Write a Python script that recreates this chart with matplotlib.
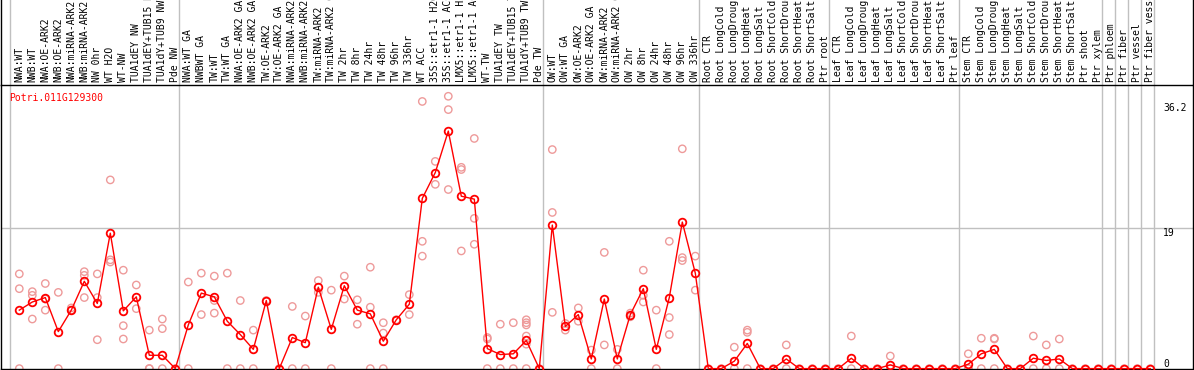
import numpy as np
import matplotlib
matplotlib.use('Agg')
import matplotlib.pyplot as plt

# gene shown
gene = 'Potri.011G129300'

# sample names, one column each
labels = ['NWA:WT', 'NWB:WT', 'NWA:OE-ARK2', 'NWB:OE-ARK2', 'NWA:miRNA-ARK2', 'NWB:miRNA-ARK2',
          'NW 0hr', 'WT H2O', 'WT-NW', 'TUA1dEY NW', 'TUA1dEY+TUB15 NW', 'TUA1dY+TUB9 NW', 'Pde NW',
          'NWA:WT GA', 'NWBWT GA', 'TW:WT', 'TW:WT GA', 'NWA:OE-ARK2 GA', 'NWB:OE-ARK2 GA',
          'TW:OE-ARK2', 'TW:OE-ARK2 GA', 'NWA:miRNA-ARK2 GA', 'NWB:miRNA-ARK2 GA', 'TW:miRNA-ARK2',
          'TW:miRNA-ARK2 GA', 'TW 2hr', 'TW 8hr', 'TW 24hr', 'TW 48hr', 'TW 96hr', 'TW 336hr',
          'WT ACC', '35S::etr1-1 H2O', '35S::etr1-1 ACC', 'LMX5::etr1-1 H2O', 'LMX5::etr1-1 ACC',
          'WT-TW', 'TUA1dEY TW', 'TUA1dEY+TUB15 TW', 'TUA1dY+TUB9 TW', 'Pde TW',
          'OW:WT', 'OW:WT GA', 'OW:OE-ARK2', 'OW:OE-ARK2 GA', 'OW:miRNA-ARK2', 'OW:miRNA-ARK2 GA',
          'OW 2hr', 'OW 8hr', 'OW 24hr', 'OW 48hr', 'OW 96hr', 'OW 336hr',
          'Root CTR', 'Root LongCold', 'Root LongDrought', 'Root LongHeat', 'Root LongSalt',
          'Root ShortCold', 'Root ShortDrought', 'Root ShortHeat', 'Root ShortSalt', 'Ptr root',
          'Leaf CTR', 'Leaf LongCold', 'Leaf LongDrought', 'Leaf LongHeat', 'Leaf LongSalt',
          'Leaf ShortCold', 'Leaf ShortDrought', 'Leaf ShortHeat', 'Leaf ShortSalt', 'Ptr leaf',
          'Stem CTR', 'Stem LongCold', 'Stem LongDrought', 'Stem LongHeat', 'Stem LongSalt',
          'Stem ShortCold', 'Stem ShortDrought', 'Stem ShortHeat', 'Stem ShortSalt', 'Ptr shoot',
          'Ptr xylem', 'Ptr phloem', 'Ptr fiber', 'Ptr vessel', 'Ptr fiber vessel']

# first column of each experiment block
group_starts = [0, 13, 41, 53, 63, 73, 84, 85, 86, 87, 88]

# mean expression per sample
means = [7.9, 9.0, 9.6, 5.0, 7.9, 11.8, 8.8, 18.3, 7.8, 9.7, 1.8, 1.8, 0,
         5.9, 10.2, 9.7, 6.4, 4.6, 2.6, 9.2, 0, 4.2, 3.5, 11.0, 5.3, 11.2, 7.9, 7.4, 3.7,
         6.6, 8.7, 23.0, 26.5, 32.1, 23.3, 22.9, 2.7, 1.9, 2.0, 3.8, 0,
         19.4, 5.7, 7.3, 1.3, 9.4, 1.3, 7.3, 10.8, 2.6, 9.6, 19.8, 12.9,
         0, 0, 1.0, 3.4, 0, 0, 1.3, 0, 0, 0,
         0, 1.4, 0, 0, 0.5, 0, 0, 0, 0, 0,
         0.6, 2.0, 2.6, 0, 0, 1.4, 1.1, 1.3, 0, 0, 0,
         0, 0, 0, 0]

# single replicates per sample
reps = [[12.8, 10.8, 0], [10.4, 9.9, 6.7], [11.5, 7.9, 9.4], [10.3, 0], [8.2, 7.9],
        [13.1, 12.6, 9.6], [12.8, 9.6, 3.9], [25.5, 14.7, 14.4], [13.3, 5.8, 4.0], [11.3, 8.1],
        [5.2, 0, 0], [6.7, 5.4, 0], [0],
        [11.7, 0], [12.9, 7.3], [12.5, 9.2, 7.5], [12.9, 0], [9.2, 0], [5.2, 0], [9.2], [0],
        [8.4, 0], [7.1, 0], [11.9, 10.3], [10.6, 0], [12.5, 9.4], [9.3, 6.0], [13.7, 8.3, 0],
        [6.2, 4.8, 0], [6.6], [10.0, 7.3], [36.1, 17.2, 15.2], [28.0, 24.9], [36.8, 35.0, 24.2],
        [27.2, 26.9, 15.9], [31.1, 20.3, 16.8], [4.2, 4.0, 0], [6.0, 0], [6.2, 0],
        [6.6, 6.2, 5.9, 4.4, 3.3, 0], [0],
        [29.6, 21.1, 7.6], [6.1, 5.2], [8.2, 6.4], [2.5, 0], [15.7, 3.2], [2.6, 0], [7.5, 7.0],
        [13.3, 9.9, 9.0], [7.9, 0], [17.2, 6.9, 4.6], [29.7, 15.0, 14.6], [15.2, 10.6],
        [0], [0], [2.9, 0], [5.2, 4.9, 0], [0], [0], [3.2, 0], [0], [0], [0],
        [0], [4.4, 0], [0], [0], [1.7, 0], [0], [0], [0], [0], [0],
        [2.0, 0, 0], [4.1, 0], [4.1, 4.0, 0], [0], [0], [4.4, 0], [3.2, 0], [4.0, 0], [0], [0], [0],
        [0], [0], [0], [0]]

# y axis marks shown on the right
ymax_label = '36.2'
ymid = 19

plt.rcParams['font.family'] = 'DejaVu Sans Mono'
fs = 7

W, H = 1194, 370
fig = plt.figure(figsize=(W/100, H/100), dpi=100)

# plot frame in pixels: x 1..1193, y 85..369
top_px, bot_px = 85, 369
ax = fig.add_axes([1/W, (H-bot_px)/H, 1192/W, (bot_px-top_px)/H])
hdr = (top_px)/(bot_px-top_px)      # header height in axes fraction

x = np.arange(len(labels))
ax.set_xlim((1-19.3)/13.0, (1193-19.3)/13.0)
ax.set_ylim(-0.4/7.4, (368.6-top_px)/7.4)
ax.set_xticks([])
ax.set_yticks([])
for s in ax.spines.values():
    s.set_color('black')
    s.set_linewidth(1)

# group separators, also through the header
for g in group_starts:
    ax.axvline(g-0.7, ymin=0, ymax=1+hdr, color='#c0c0c0', lw=1, clip_on=False, zorder=1)
ax.axhline(ymid, color='#c0c0c0', lw=1, zorder=1)
# outer borders in the header area
ax.plot([0, 0], [1, 1+hdr], transform=ax.transAxes, color='black', lw=1, clip_on=False)
ax.plot([1, 1], [1, 1+hdr], transform=ax.transAxes, color='black', lw=1, clip_on=False)

# replicates
rx = [i for i, r in enumerate(reps) for v in r]
ry = [v for r in reps for v in r]
ax.scatter(rx, ry, s=28, facecolors='none', edgecolors='#ee9a9a', linewidths=1.0,
           zorder=2, clip_on=False)

# means
ax.plot(x, means, color='red', lw=1, marker='o', ms=5.5, mfc='none', mec='red',
        mew=1.3, zorder=3, clip_on=False)

# sample names on top
tr = ax.get_xaxis_transform()
for i, lab in enumerate(labels):
    ax.text(i, 1+2.5/(bot_px-top_px), lab, transform=tr, rotation=90, ha='center',
            va='bottom', fontsize=fs, clip_on=False)

ax.text((9.3-1)/1192, (368.6-93)/7.4, gene, transform=matplotlib.transforms.blended_transform_factory(ax.transAxes, ax.transData),
        color='red', fontsize=fs, va='top', ha='left')

# value labels
lx = (1163-1)/1192
bt = matplotlib.transforms.blended_transform_factory(ax.transAxes, ax.transData)
ax.text(lx, (368.6-103)/7.4, ymax_label, transform=bt, fontsize=fs, va='top', ha='left')
ax.text(lx, ymid, str(ymid), transform=bt, fontsize=fs, va='top', ha='left')
ax.text(lx, (368.6-359)/7.4, '0', transform=bt, fontsize=fs, va='top', ha='left')

fig.savefig('out.png', dpi=100)
